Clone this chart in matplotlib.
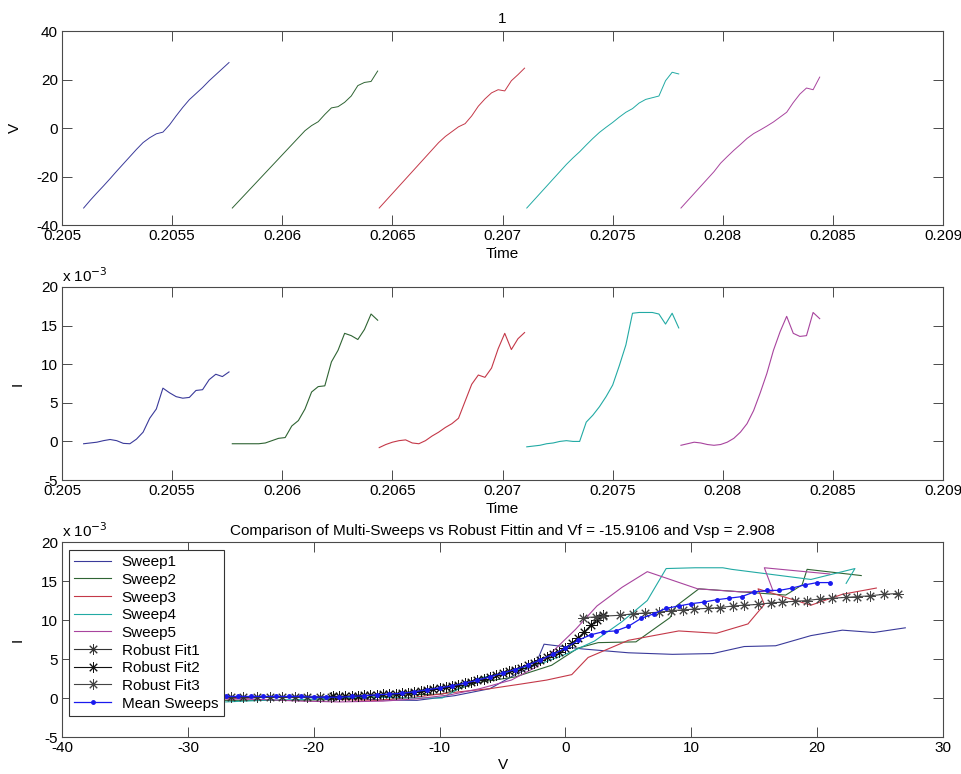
import numpy as np
import matplotlib
matplotlib.use('Agg')
import matplotlib.pyplot as plt

plt.rcParams['font.family'] = ['Liberation Sans', 'DejaVu Sans']
plt.rcParams['font.size'] = 11
plt.rcParams['axes.unicode_minus'] = False

# ---------------- data ----------------
sweep_names = ['Sweep1', 'Sweep2', 'Sweep3', 'Sweep4', 'Sweep5']
sweep_t0 = [0.205098, 0.205773, 0.206440, 0.207110, 0.207810]
sample_dt = 0.00003

v_sweep1 = [-33, -29.8, -26.8, -23.9, -20.9, -17.8, -14.8, -11.8, -8.8, -6, -4.0, -2.4,
            -1.7, 1.3, 5, 8.5, 11.7, 14.2, 16.7, 19.5, 22, 24.5, 27]
i_sweep1 = [-0.3, -0.2, -0.1, 0.1, 0.25, 0.1, -0.25, -0.3, 0.3, 1.2, 3.0, 4.2,
            6.9, 6.3, 5.8, 5.6, 5.7, 6.6, 6.7, 8.0, 8.7, 8.4, 9.0]

v_sweep2 = [-33, -30.1, -27.2, -24.3, -21.4, -18.5, -15.6, -12.7, -9.8, -6.9, -4, -1.1,
            1, 2.6, 5.6, 8.3, 8.8, 10.6, 13.2, 17.5, 18.8, 19.2, 23.5]
i_sweep2 = [-0.3, -0.3, -0.3, -0.3, -0.3, -0.2, 0.1, 0.4, 0.5, 2.0, 2.7, 4.2,
            6.4, 7.1, 7.2, 10.3, 11.8, 14.0, 13.7, 13.2, 14.5, 16.5, 15.7]

v_sweep3 = [-33, -30, -27, -24, -21, -18, -15, -12, -9, -6, -3.5, -1.5,
            0.5, 1.8, 5, 9, 12, 14.5, 15.8, 15.3, 19.5, 22, 24.7]
i_sweep3 = [-0.8, -0.4, -0.1, 0.1, 0.2, -0.2, -0.3, 0.1, 0.7, 1.2, 1.8, 2.3,
            3.0, 5.2, 7.4, 8.6, 8.3, 9.5, 12.0, 14.0, 11.9, 13.3, 14.1]

v_sweep4 = [-33, -30, -27, -24, -21, -18, -15, -12.3, -9.8, -7, -4.3, -1.8,
            0.3, 2.3, 4.5, 6.5, 8.0, 10.3, 11.8, 12.5, 13.2, 19.5, 23, 22.3]
i_sweep4 = [-0.7, -0.6, -0.5, -0.3, -0.2, 0.0, 0.1, 0.0, 0.0, 2.5, 3.4, 4.5,
            5.8, 7.3, 9.8, 12.5, 16.6, 16.7, 16.7, 16.7, 16.5, 15.2, 16.6, 14.7]

v_sweep5 = [-33, -30, -27, -24, -21, -18, -14.5, -11.8, -9.2, -6.8, -4.3, -2.3,
            -0.8, 0.8, 2.5, 4.5, 6.5, 10.5, 14, 16.5, 15.8, 21]
i_sweep5 = [-0.5, -0.3, -0.1, -0.2, -0.4, -0.5, -0.4, -0.1, 0.4, 1.2, 2.3, 4.0,
            6.3, 8.8, 11.8, 14.2, 16.2, 14.0, 13.6, 13.7, 16.7, 15.9]

fit_names = ['Robust Fit1', 'Robust Fit2', 'Robust Fit3']
v_fit1 = [-26.6, -25.6, -24.5, -23.5, -22.5, -21.5, -20.5, -19.5, -18.6]
i_fit1 = [0.15, 0.15, 0.15, 0.15, 0.15, 0.15, 0.15, 0.15, 0.15]

v_fit2 = [-18.5, -18, -17.5, -17, -16.5, -16, -15.5, -15, -14.5, -14, -13.5, -13,
          -12.5, -12, -11.5, -11, -10.5, -10, -9.5, -9, -8.5, -8, -7.5, -7,
          -6.5, -6, -5.5, -5, -4.5, -4, -3.5, -3, -2.5, -2, -1.5, -1,
          -0.5, 0, 0.5, 1, 1.5, 2, 2.5, 3]
i_fit2 = [0.2, 0.22, 0.25, 0.28, 0.3, 0.33, 0.37, 0.4, 0.45, 0.5, 0.56, 0.62,
          0.7, 0.8, 0.95, 1.05, 1.15, 1.28, 1.4, 1.55, 1.7, 1.9, 2.1, 2.3,
          2.5, 2.7, 2.95, 3.2, 3.45, 3.65, 3.9, 4.2, 4.55, 4.9, 5.25, 5.6,
          5.9, 6.4, 7.0, 7.7, 8.5, 9.3, 10.0, 10.6]

v_fit3 = [1.4, 2.4, 3.0, 4.3, 5.4, 6.3, 7.4, 8.4, 9.3, 10.2, 11.3, 12.3, 13.3,
          14.2, 15.3, 16.3, 17.2, 18.2, 19.2, 20.2, 21.2, 22.3, 23.2, 24.2, 25.3, 26.4]
i_fit3 = [10.3, 10.4, 10.5, 10.6, 10.8, 10.9, 11.0, 11.2, 11.3, 11.4, 11.5, 11.6, 11.8,
          11.9, 12.0, 12.2, 12.3, 12.4, 12.5, 12.7, 12.8, 12.9, 13.0, 13.1, 13.3, 13.4]

v_mean = [-27, -26, -25, -24, -23, -22, -21, -20, -19, -18, -17, -16, -15, -14, -13,
          -12, -11, -10, -9, -8, -7, -6, -5, -4, -3, -2, -1, 0, 1, 2, 3, 4, 5, 6,
          7, 8, 9, 10, 11, 12, 13, 14, 15, 16, 17, 18, 19, 20, 21]
i_mean = [0.2, 0.2, 0.2, 0.2, 0.2, 0.2, 0.2, 0.1, 0.1, 0.1, 0.2, 0.3, 0.4, 0.5, 0.6,
          0.8, 1.05, 1.3, 1.55, 1.9, 2.3, 2.7, 3.2, 3.65, 4.2, 4.9, 5.6, 6.4, 7.4, 8.1,
          8.5, 8.6, 9.2, 10.2, 10.8, 11.5, 11.8, 12.1, 12.3, 12.6, 12.8, 13.0, 13.6, 13.8,
          13.8, 14.1, 14.5, 14.8, 14.8]

time_ticks = [0.205, 0.2055, 0.206, 0.2065, 0.207, 0.2075, 0.208, 0.2085, 0.209]
time_tick_labels = ['0.205', '0.2055', '0.206', '0.2065', '0.207', '0.2075',
                    '0.208', '0.2085', '0.209']
v_ticks_top = [-40, -20, 0, 20, 40]
i_ticks = [-5, 0, 5, 10, 15, 20]
v_ticks_bottom = [-40, -30, -20, -10, 0, 10, 20, 30]

v_sweeps = [v_sweep1, v_sweep2, v_sweep3, v_sweep4, v_sweep5]
i_sweeps = [i_sweep1, i_sweep2, i_sweep3, i_sweep4, i_sweep5]

# ---------------- style ----------------
sweep_colors = ['#3a3a9a', '#2f6433', '#c43848', '#22aaa4', '#a8449e']
axis_color = '#4a4a4a'

fig = plt.figure(figsize=(9.62, 7.74), dpi=100)
ax1 = fig.add_axes([0.0645, 0.7093, 0.9158, 0.2506])
ax2 = fig.add_axes([0.0645, 0.3798, 0.9158, 0.2494])
ax3 = fig.add_axes([0.0645, 0.0478, 0.9158, 0.2519])


def style(ax):
    for s in ax.spines.values():
        s.set_color(axis_color)
        s.set_linewidth(0.8)
    ax.tick_params(direction='in', top=True, right=True, length=7, width=0.7,
                   color=axis_color, labelsize=11, pad=3)


for k in range(5):
    t = sweep_t0[k] + sample_dt * np.arange(len(v_sweeps[k]))
    ax1.plot(t, v_sweeps[k], color=sweep_colors[k], lw=0.7)
    ax2.plot(t, i_sweeps[k], color=sweep_colors[k], lw=0.8)

for ax in (ax1, ax2):
    style(ax)
    ax.set_xlim(0.205, 0.209)
    ax.set_xticks(time_ticks)
    ax.set_xticklabels(time_tick_labels)
    ax.set_xlabel('Time', labelpad=3)

ax1.set_ylim(-40, 40)
ax1.set_yticks(v_ticks_top)
ax1.set_ylabel('V')
ax1.yaxis.set_label_coords(-0.046, 0.5)
ax1.set_title('1', fontsize=11)

ax2.set_ylim(-5, 20)
ax2.set_yticks(i_ticks)
ax2.set_ylabel('I')
ax2.yaxis.set_label_coords(-0.042, 0.5)
ax2.text(0.0, 1.008, r'x 10$^{-3}$', transform=ax2.transAxes, ha='left', va='bottom',
         fontsize=11)

# bottom
handles = []
for k in range(5):
    h, = ax3.plot(v_sweeps[k][2:], i_sweeps[k][2:], color=sweep_colors[k], lw=0.8,
                  label=sweep_names[k])
    handles.append(h)
fit_colors = ['#333333', '#111111', '#444444']
for name, vv, ii, c in zip(fit_names, [v_fit1, v_fit2, v_fit3], [i_fit1, i_fit2, i_fit3],
                           fit_colors):
    h, = ax3.plot(vv, ii, color=c, lw=0.8, marker=(8, 2, 0), markersize=7.5,
                  markeredgewidth=0.7, label=name)
    handles.append(h)
h, = ax3.plot(v_mean, i_mean, color='#1a1aee', lw=0.9, marker='o', markersize=2.5,
              label='Mean Sweeps')
handles.append(h)

style(ax3)
ax3.set_xlim(-40, 30)
ax3.set_xticks(v_ticks_bottom)
ax3.set_ylim(-5, 20)
ax3.set_yticks(i_ticks)
ax3.set_xlabel('V', labelpad=2)
ax3.set_ylabel('I')
ax3.yaxis.set_label_coords(-0.042, 0.5)
ax3.text(0.0, 1.008, r'x 10$^{-3}$', transform=ax3.transAxes, ha='left', va='bottom',
         fontsize=11)
ax3.set_title('Comparison of Multi-Sweeps vs Robust Fittin and Vf = -15.9106 and Vsp = 2.908',
              fontsize=11, pad=5)
leg = ax3.legend(handles=handles, loc='upper left', bbox_to_anchor=(0.008, 0.96),
                 borderaxespad=0, fancybox=False, edgecolor='#333333', framealpha=1,
                 fontsize=11, labelspacing=0.24, handlelength=2.4, handletextpad=0.7,
                 borderpad=0.35)
leg.get_frame().set_linewidth(0.8)

fig.savefig('out.png', dpi=100)
